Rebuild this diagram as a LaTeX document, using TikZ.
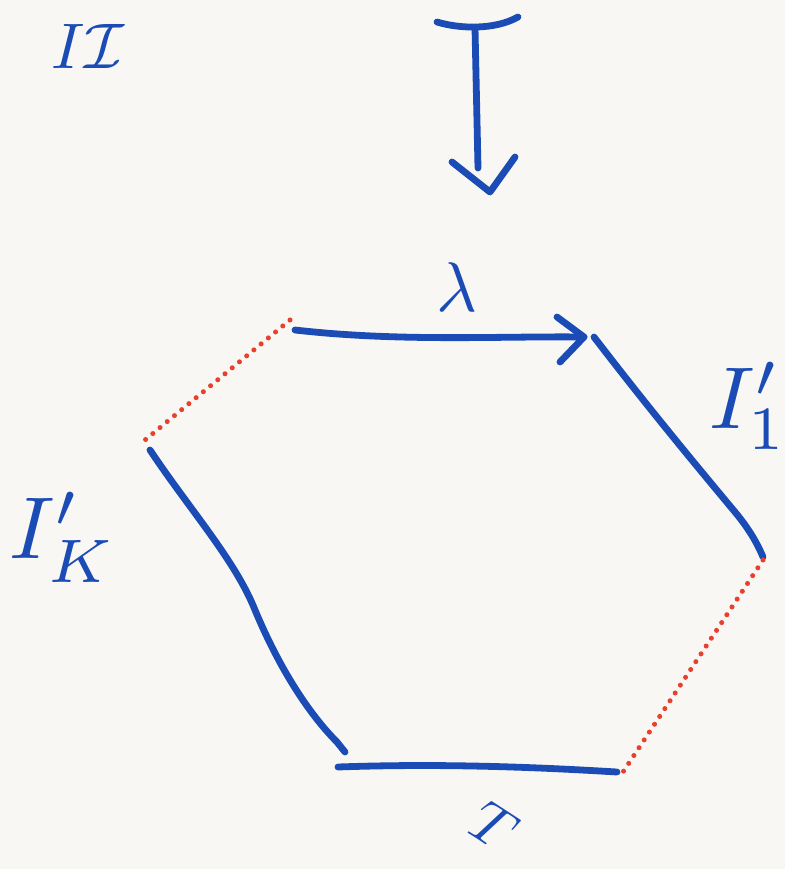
\documentclass[tikz,border=0pt]{standalone}
\definecolor{ink}{HTML}{1B4CB6}
\definecolor{redink}{HTML}{E8402C}
\definecolor{paper}{HTML}{F9F7F3}
\begin{document}
\begin{tikzpicture}[x=0.03cm,y=-0.03cm,
  pen/.style={ink, line width=5.8pt, line cap=round, line join=round},
  reddots/.style={redink, line width=4.3pt, line cap=round, dash pattern=on 0pt off 8pt},
  lbl/.style={ink, inner sep=0pt}]
\fill[paper] (0,0) rectangle (785,869);
\useasboundingbox (0,0) rectangle (785,869);
% vertices / endpoints
\coordinate (tl) at (295,330);
\coordinate (tr) at (584,337);
\coordinate (r1) at (594,337);
\coordinate (r2) at (763,557);
\coordinate (l1) at (150,450);
\coordinate (l2) at (345,752);
\coordinate (b1) at (338,767);
\coordinate (b2) at (617,772);
\coordinate (d1) at (290,320);
\coordinate (d2) at (145,440);
\coordinate (d3) at (763,560);
\coordinate (d4) at (623,772);
% hexagon edges
\draw[pen] (tl) .. controls (400,342) and (500,336) .. (tr);
\coordinate (ah1) at (557,317);
\coordinate (ah2) at (560,362);
\draw[pen] (ah1) -- (tr) -- (ah2);
\draw[pen] (r1) .. controls (650,410) and (700,470) .. (735,512) .. controls (750,530) and (758,545) .. (r2);
\draw[pen] (l1) .. controls (190,510) and (235,560) .. (255,610) .. controls (280,670) and (310,715) .. (337,742) -- (l2);
\draw[pen] (b1) .. controls (450,763) and (550,768) .. (b2);
\draw[reddots] (d1) -- (d2);
\draw[reddots] (d3) -- (d4);
% maps-to arrow
\coordinate (m1) at (437,22);
\coordinate (m2) at (518,17);
\coordinate (m3) at (475,28);
\coordinate (m4) at (478,168);
\coordinate (h1) at (452,162);
\coordinate (h2) at (490,192);
\coordinate (h3) at (515,157);
\draw[pen] (m1) .. controls (460,29) and (495,30) .. (m2);
\draw[pen] (m3) -- (m4);
\draw[pen] (h1) -- (h2) -- (h3);
% labels
\node[lbl, scale=6] (lam) at (457,287) {$\lambda$};
\node[lbl, scale=5, rotate=-33] (tee) at (494,826) {$T$};
\node[lbl, scale=7.5, anchor=base west] (ik) at (8,558) {$I'_{K}$};
\node[lbl, scale=7.5, anchor=base west] (i1) at (708,428) {$I'_{1}$};
\node[lbl, scale=5.5, anchor=base west] (itop) at (50,68) {$I\mathcal{I}$};
\end{tikzpicture}
\end{document}
